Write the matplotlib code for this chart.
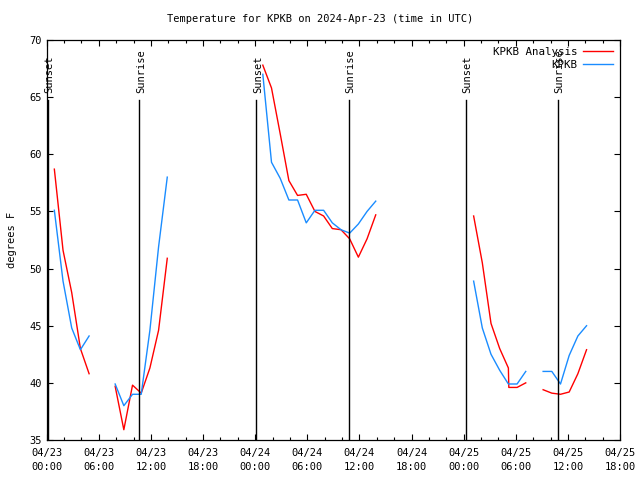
import numpy as np
import matplotlib
matplotlib.use("Agg")
import matplotlib.pyplot as plt
from matplotlib.ticker import MultipleLocator

# =========================
# Datos (horas desde 04/23 00:00 UTC)
# NaN = hueco en la serie
# =========================
nan = np.nan

analysis_hours = [0.88, 1.88, 2.88, 3.88, 4.88, nan,
                  7.88, 8.88, 9.88, 10.88, 11.88, 12.88, 13.88, nan,
                  24.88, 25.88, 26.88, 27.88, 28.88, 29.88, 30.88, 31.88,
                  32.88, 33.88, 34.88, 35.88, 36.88, 37.88, nan,
                  49.15, 50.15, 51.15, 52.15, 53.15, 53.2, 54.15, 55.15, nan,
                  57.15, 58.15, 59.15, 60.15, 61.15, 62.15]
analysis_temp = [58.7, 51.6, 47.9, 43.0, 40.8, nan,
                 39.7, 35.9, 39.8, 39.1, 41.3, 44.6, 50.9, nan,
                 67.8, 65.8, 61.8, 57.7, 56.4, 56.5, 55.0, 54.6,
                 53.5, 53.4, 52.6, 51.0, 52.6, 54.7, nan,
                 54.6, 50.5, 45.2, 43.0, 41.3, 39.6, 39.6, 40.0, nan,
                 39.4, 39.1, 39.0, 39.2, 40.8, 42.9]

obs_hours = [0.88, 1.88, 2.88, 3.88, 4.88, nan,
             7.88, 8.88, 9.88, 10.88, 11.88, 12.88, 13.88, nan,
             24.88, 25.88, 26.88, 27.88, 28.88, 29.88, 30.88, 31.88,
             32.88, 33.88, 34.88, 35.88, 36.88, 37.88, nan,
             49.15, 50.15, 51.15, 52.15, 53.15, 54.15, 55.15, nan,
             57.15, 58.15, 59.15, 60.15, 61.15, 62.15]
obs_temp = [55.1, 48.9, 44.8, 42.9, 44.1, nan,
            39.9, 38.0, 39.0, 39.0, 44.6, 51.9, 58.0, nan,
            67.0, 59.3, 57.9, 56.0, 56.0, 54.0, 55.1, 55.1,
            54.0, 53.4, 53.1, 53.9, 55.0, 55.9, nan,
            48.9, 44.8, 42.5, 41.1, 39.9, 39.9, 41.0, nan,
            41.0, 41.0, 39.9, 42.4, 44.1, 45.0]

sunset_hours = [0.1, 24.15, 48.28]
sunrise_hours = [10.68, 34.79, 58.86]

tick_hours = list(range(0, 67, 6))
tick_labels = ["04/23\n00:00", "04/23\n06:00", "04/23\n12:00", "04/23\n18:00",
               "04/24\n00:00", "04/24\n06:00", "04/24\n12:00", "04/24\n18:00",
               "04/25\n00:00", "04/25\n06:00", "04/25\n12:00", "04/25\n18:00"]

plt.rcParams['font.family'] = 'DejaVu Sans Mono'
plt.rcParams['font.size'] = 7

fig = plt.figure(figsize=(6.4, 4.8), dpi=100)
ax = fig.add_axes([46.7 / 640, 40 / 480, 573.3 / 640, 400 / 480])

ax.plot(analysis_hours, analysis_temp, color='#ff0000', lw=1, label='KPKB Analysis')
ax.plot(obs_hours, obs_temp, color='#1a8cff', lw=1, label='KPKB')

for h in sunset_hours:
    ax.plot([h, h], [35, 64.75], color='black', lw=1)
    ax.text(h + 0.15, 65.4, "Sunset", rotation=90, ha='center', va='bottom', fontsize=7.5)
for h in sunrise_hours:
    ax.plot([h, h], [35, 64.75], color='black', lw=1)
    ax.text(h + 0.15, 65.4, "Sunrise", rotation=90, ha='center', va='bottom', fontsize=7.5)

ax.set_xlim(0, 66)
ax.set_ylim(35, 70)
ax.set_xticks(tick_hours)
ax.set_xticklabels(tick_labels, linespacing=1.5)
ax.xaxis.set_minor_locator(MultipleLocator(2))
ax.yaxis.set_major_locator(MultipleLocator(5))

ax.tick_params(direction='in', top=True, right=True, which='both', width=0.8)
ax.tick_params(which='major', length=4.3, labelsize=7.5)
ax.tick_params(which='minor', length=2.2)
ax.tick_params(axis='x', pad=6)
for s in ax.spines.values():
    s.set_linewidth(0.9)

ax.set_ylabel("degrees F", fontsize=7.5, labelpad=9)
fig.suptitle("Temperature for KPKB on 2024-Apr-23 (time in UTC)", y=0.97, fontsize=7.5)

ax.legend(loc='upper right', markerfirst=False, frameon=False, fontsize=7.8,
          handlelength=2.8, borderaxespad=0.25, labelspacing=0.25, handletextpad=0.5)

fig.savefig("out.png", dpi=100)
